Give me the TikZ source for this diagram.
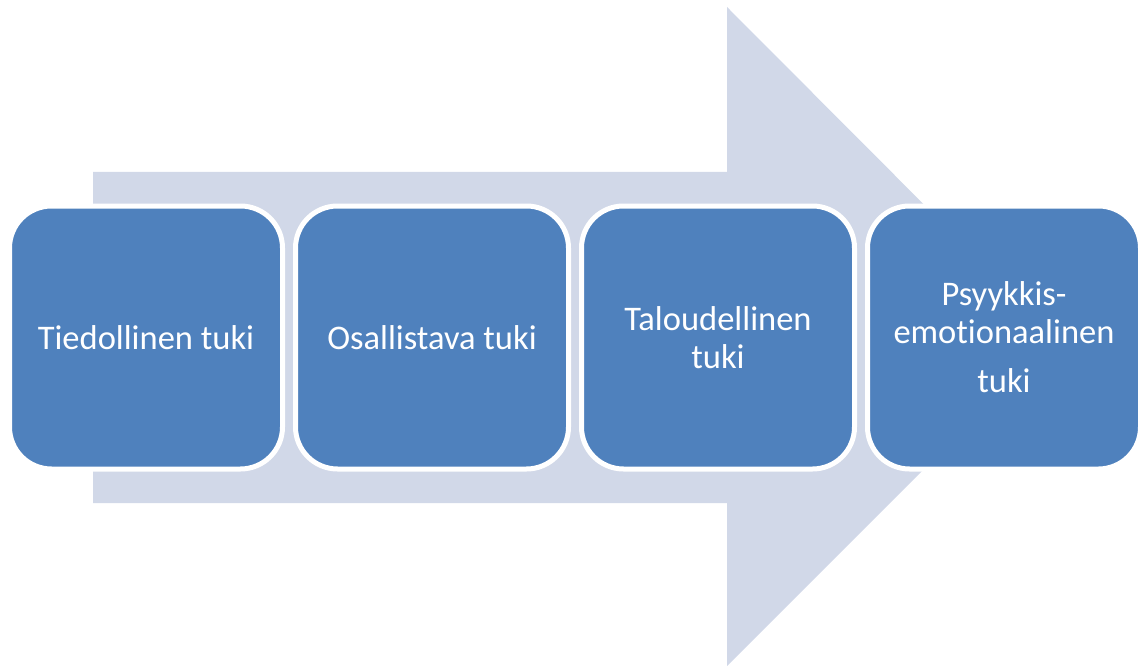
\documentclass[tikz,border=0pt]{standalone}
\usepackage{fontspec}
\setmainfont{Carlito}[Ligatures=NoCommon]
\definecolor{arrowfill}{RGB}{209,216,232}
\definecolor{boxblue}{RGB}{79,129,189}
\begin{document}
\begin{tikzpicture}[x=1pt,y=-1pt,
  stepbox/.style={rectangle, rounded corners=42pt, fill=boxblue, draw=white,
    line width=5pt, minimum width=273pt, minimum height=263pt,
    text=white, align=center, font=\fontsize{34.5}{37.5}\selectfont, inner sep=0pt}]
\useasboundingbox (0,0) rectangle (1141,666);
\fill[arrowfill] (93,172) -- (727,172) -- (727,7) -- (1056,337) -- (727,666) -- (727,503) -- (93,503) -- cycle;
\node[stepbox] (b1) at (146,337.5) {Tiedollinen tuki};
\node[stepbox] (b2) at (432,337.5) {Osallistava tuki};
\node[stepbox] (b3) at (718,337.5) {Taloudellinen\\tuki};
\node[stepbox] (b4) at (1004,337.5) {Psyykkis-\\emotionaalinen\\[12pt]tuki};
\end{tikzpicture}
\end{document}
